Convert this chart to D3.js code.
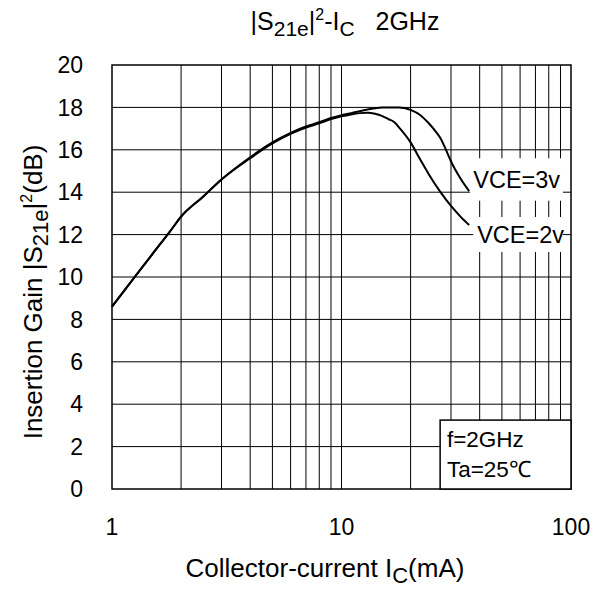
<!DOCTYPE html>
<html>
<head>
<meta charset="utf-8">
<script src="https://cdn.jsdelivr.net/npm/d3@7"></script>
<style>
  body { margin: 0; background: #fff; }
  text { font-family: "Liberation Sans", Arial, sans-serif; fill: #000; }
</style>
</head>
<body>
<div id="chart"></div>
<script>
// data (Ic in mA, gain in dB)
const ic2v = [1, 1.24, 1.5, 1.79, 2, 2.5, 3, 4, 5, 6, 7, 8, 9, 10, 11, 12, 13, 14, 15, 16, 17, 18, 20, 22, 24, 27, 30, 33, 36];
const gain2v = [8.6, 9.92, 11.08, 12.15, 12.85, 13.8, 14.6, 15.6, 16.3, 16.75, 17.05, 17.25, 17.45, 17.58, 17.67, 17.73, 17.75, 17.7, 17.6, 17.45, 17.3, 17.0, 16.35, 15.55, 14.85, 14.0, 13.35, 12.85, 12.45];
const ic3v = [1, 1.24, 1.5, 1.79, 2, 2.5, 3, 4, 5, 6, 7, 8, 9, 10, 11, 12, 13, 14, 15, 16, 17, 18, 19, 20, 22, 24, 26, 27, 28, 30, 33, 36];
const gain3v = [8.6, 9.92, 11.08, 12.15, 12.85, 13.8, 14.6, 15.65, 16.35, 16.8, 17.1, 17.3, 17.5, 17.63, 17.73, 17.82, 17.9, 17.96, 18.0, 18.0, 18.0, 17.99, 17.96, 17.88, 17.64, 17.25, 16.8, 16.55, 16.2, 15.45, 14.65, 14.05];
const xTicks = [1, 10, 100];
const xGrid = [2, 3, 4, 5, 6, 7, 8, 9, 10, 20, 30, 40, 50, 60, 70, 80, 90];
const yTicks = [0, 2, 4, 6, 8, 10, 12, 14, 16, 18, 20];

const W = 603, H = 589;
const margin = { top: 65, right: 32, bottom: 100, left: 112 };
const width = W - margin.left - margin.right,
      height = H - margin.top - margin.bottom;

const svg = d3.select("#chart").append("svg")
  .attr("width", W).attr("height", H);

const g = svg.append("g")
  .attr("transform", `translate(${margin.left},${margin.top})`);

const x = d3.scaleLog().domain([1, 100]).range([0, width]);
const y = d3.scaleLinear().domain([0, 20]).range([height, 0]);

// grid
g.selectAll(".vgrid").data(xGrid).join("line")
  .attr("x1", d => x(d)).attr("x2", d => x(d))
  .attr("y1", 0).attr("y2", height)
  .attr("stroke", "#000").attr("stroke-width", 1);

g.selectAll(".hgrid").data(yTicks.slice(1, -1)).join("line")
  .attr("x1", 0).attr("x2", width)
  .attr("y1", d => y(d)).attr("y2", d => y(d))
  .attr("stroke", "#000").attr("stroke-width", 1);

// white patches behind the curve labels
g.append("rect").attr("x", x(36.3)).attr("y", y(15.6))
  .attr("width", x(92.3) - x(36.3)).attr("height", y(13.6) - y(15.6)).attr("fill", "#fff");
g.append("rect").attr("x", x(37.5)).attr("y", y(12.83))
  .attr("width", x(92.3) - x(37.5)).attr("height", y(11.18) - y(12.83)).attr("fill", "#fff");

// frame
g.append("rect").attr("width", width).attr("height", height)
  .attr("fill", "none").attr("stroke", "#000").attr("stroke-width", 1.5);

// axis tick labels
g.selectAll(".ylab").data(yTicks).join("text")
  .attr("x", -29).attr("y", d => y(d)).attr("dy", "0.36em")
  .attr("text-anchor", "end").attr("font-size", 23)
  .text(d => d);

g.selectAll(".xlab").data(xTicks).join("text")
  .attr("x", d => x(d)).attr("y", height + 46)
  .attr("text-anchor", "middle").attr("font-size", 23)
  .text(d => d);

// curves
const line = d3.line().x(d => x(d[0])).y(d => y(d[1])).curve(d3.curveMonotoneX);

g.append("path").datum(d3.zip(ic2v, gain2v)).attr("d", line)
  .attr("fill", "none").attr("stroke", "#000").attr("stroke-width", 2);
g.append("path").datum(d3.zip(ic3v, gain3v)).attr("d", line)
  .attr("fill", "none").attr("stroke", "#000").attr("stroke-width", 2);

g.append("text").attr("x", x(37.5)).attr("y", y(14.2))
  .attr("font-size", 23.5).text("VCE=3v");
g.append("text").attr("x", x(39)).attr("y", y(11.6))
  .attr("font-size", 23.5).text("VCE=2v");

// condition box
g.append("rect").attr("x", x(26.9)).attr("y", y(3.25))
  .attr("width", width - x(26.9)).attr("height", y(0) - y(3.25))
  .attr("fill", "#fff").attr("stroke", "#000").attr("stroke-width", 1.5);
g.append("text").attr("x", x(28.8)).attr("y", y(1.98)).attr("font-size", 22.5).text("f=2GHz");
g.append("text").attr("x", x(28.8)).attr("y", y(0.57)).attr("font-size", 22.5).text("Ta=25\u2103");

// title
const title = svg.append("text").attr("x", 345).attr("y", 30)
  .attr("text-anchor", "middle").attr("font-size", 25);
title.append("tspan").text("|S");
title.append("tspan").attr("dy", 6).attr("font-size", 21).text("21e");
title.append("tspan").attr("dy", -6).text("|");
title.append("tspan").attr("dy", -10).attr("font-size", 16).text("2");
title.append("tspan").attr("dy", 10).text("-I");
title.append("tspan").attr("dy", 6).attr("font-size", 21).text("C");
title.append("tspan").attr("dy", -6).attr("xml:space", "preserve").text("   2GHz");

// x axis label
const xl = svg.append("text").attr("x", 325).attr("y", 577)
  .attr("text-anchor", "middle").attr("font-size", 26);
xl.append("tspan").text("Collector-current I");
xl.append("tspan").attr("dy", 6).attr("font-size", 22).text("C");
xl.append("tspan").attr("dy", -6).text("(mA)");

// y axis label
const yl = svg.append("text")
  .attr("transform", "translate(42,292) rotate(-90)")
  .attr("text-anchor", "middle").attr("font-size", 26);
yl.append("tspan").text("Insertion Gain |S");
yl.append("tspan").attr("dy", 6).attr("font-size", 22).text("21e");
yl.append("tspan").attr("dy", -6).text("|");
yl.append("tspan").attr("dy", -10).attr("font-size", 16).text("2");
yl.append("tspan").attr("dy", 10).text("(dB)");
</script>
</body>
</html>
